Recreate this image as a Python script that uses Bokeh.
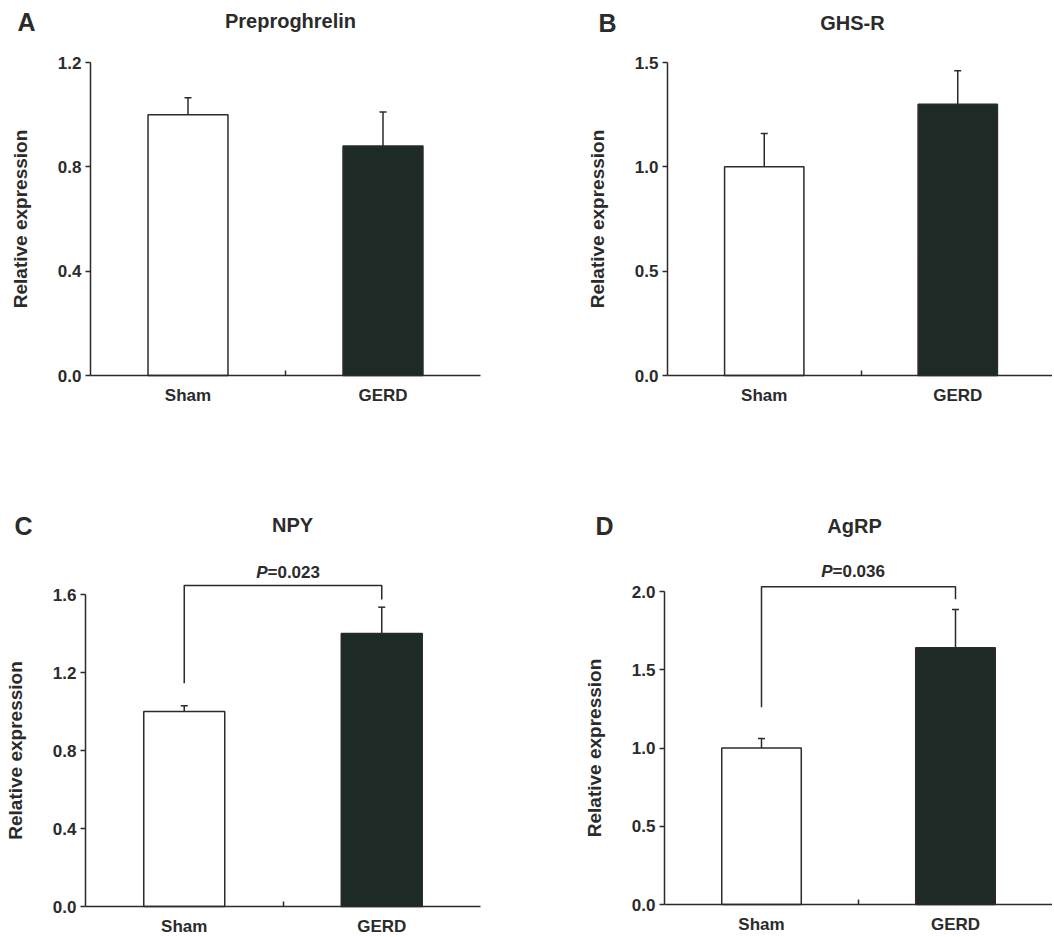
from bokeh.plotting import figure
from bokeh.models import (ColumnDataSource, Range1d, FixedTicker, Whisker, TeeHead, Label,
                          NumeralTickFormatter)
from bokeh.layouts import row, column
from bokeh.embed import file_html
from bokeh.resources import INLINE

# ---- data ----
groups = ["Sham", "GERD"]
group_x = [0.5, 1.5]

titles = ["Preproghrelin", "GHS-R", "NPY", "AgRP"]
letters = ["A", "B", "C", "D"]

preproghrelin_mean = [1.00, 0.88]
preproghrelin_err = [0.065, 0.13]
ghsr_mean = [1.00, 1.30]
ghsr_err = [0.16, 0.16]
npy_mean = [1.00, 1.40]
npy_err = [0.03, 0.135]
agrp_mean = [1.00, 1.64]
agrp_err = [0.06, 0.245]

y_ticks_A = [0.0, 0.4, 0.8, 1.2]
y_ticks_B = [0.0, 0.5, 1.0, 1.5]
y_ticks_C = [0.0, 0.4, 0.8, 1.2, 1.6]
y_ticks_D = [0.0, 0.5, 1.0, 1.5, 2.0]

# significance brackets: (left leg bottom, bracket height, right leg bottom)
npy_bracket = [1.145, 1.646, 1.575]
npy_p = "0.023"
agrp_bracket = [1.26, 2.03, 1.95]
agrp_p = "0.036"

FONT = "Liberation Sans"
INK = "#2b2b2b"
DARK = "#1e2a26"


def panel(title, letter, means, errs, yticks, geom, title_px, letter_px,
          bracket=None, pval=None, p_px=None):
    # geom: pixel layout of the panel (page coordinates)
    x0px, x2px, y0px, ytop_px, fl, fr, ft, fb = geom
    sx = (x2px - x0px) / 2.0
    sy = (y0px - ytop_px) / yticks[-1]

    def dx(px):
        return (px - x0px) / sx

    def dy(py):
        return (y0px - py) / sy

    p = figure(output_backend="svg", toolbar_location=None,
               frame_width=fr - fl, frame_height=fb - ft,
               min_border_left=0, min_border_right=0,
               min_border_top=0, min_border_bottom=0,
               x_range=Range1d(dx(fl), dx(fr)), y_range=Range1d(dy(fb), dy(ft)),
               background_fill_color="white", border_fill_color="white")
    p.outline_line_color = None
    p.grid.visible = False
    p.title.visible = False

    src = ColumnDataSource(dict(x=group_x, top=means, up=[m + e for m, e in zip(means, errs)],
                                fill=["white", DARK]))
    p.vbar(x="x", top="top", width=0.41, bottom=0, source=src, fill_color="fill",
           line_color=INK, line_width=1.5)
    p.add_layout(Whisker(base="x", lower="top", upper="up", source=src, dimension="height",
                         line_color=INK, line_width=1.5,
                         upper_head=TeeHead(size=7, line_color=INK, line_width=1.5),
                         lower_head=None))

    # title and panel letter
    p.add_layout(Label(x=dx(title_px[0]), y=dy(title_px[1]), text=title, text_align="center",
                       text_baseline="middle", text_font=FONT, text_font_size="20px",
                       text_font_style="bold", text_color=INK))
    p.add_layout(Label(x=dx(letter_px[0]), y=dy(letter_px[1]), text=letter, text_align="center",
                       text_baseline="middle", text_font=FONT, text_font_size="25px",
                       text_font_style="bold", text_color=INK))

    if bracket is not None:
        bx = [group_x[0], group_x[0], group_x[1], group_x[1]]
        by = [bracket[0], bracket[1], bracket[1], bracket[2]]
        p.line(bx, by, line_color=INK, line_width=1.5)
        px_, py_ = dx(p_px[0]), dy(p_px[1])
        p.add_layout(Label(x=px_, y=py_, x_offset=-21, text="P", text_align="right",
                           text_baseline="middle", text_font=FONT, text_font_size="17px",
                           text_font_style="bold italic", text_color=INK))
        p.add_layout(Label(x=px_, y=py_, x_offset=-21, text="=" + pval, text_align="left",
                           text_baseline="middle", text_font=FONT, text_font_size="17px",
                           text_font_style="bold", text_color=INK))

    # x axis, drawn at y = 0 inside the frame
    xa = p.xaxis[0]
    xa.fixed_location = 0
    xa.ticker = FixedTicker(ticks=group_x, minor_ticks=[1.0])
    xa.major_label_overrides = {gx: g for gx, g in zip(group_x, groups)}
    xa.bounds = (0, 2)
    xa.major_tick_line_color = None
    xa.major_tick_in = 0
    xa.major_tick_out = 0
    xa.minor_tick_in = 5
    xa.minor_tick_out = 0
    xa.minor_tick_line_color = INK
    xa.minor_tick_line_width = 1.5
    xa.axis_line_color = INK
    xa.axis_line_width = 1.5
    xa.major_label_text_font = FONT
    xa.major_label_text_font_size = "17px"
    xa.major_label_text_font_style = "bold"
    xa.major_label_text_color = INK
    xa.major_label_standoff = 10

    # y axis, drawn at x = 0 inside the frame
    ya = p.yaxis[0]
    ya.fixed_location = 0
    ya.ticker = FixedTicker(ticks=yticks, minor_ticks=[])
    ya.formatter = NumeralTickFormatter(format="0.0")
    ya.bounds = (0, yticks[-1])
    ya.major_tick_in = 0
    ya.major_tick_out = 5
    ya.major_tick_line_color = INK
    ya.major_tick_line_width = 1.5
    ya.axis_line_color = INK
    ya.axis_line_width = 1.5
    ya.major_label_text_font = FONT
    ya.major_label_text_font_size = "17px"
    ya.major_label_text_font_style = "bold"
    ya.major_label_text_color = INK
    ya.major_label_standoff = 4
    ya.axis_label = "Relative expression"
    ya.axis_label_text_font = FONT
    ya.axis_label_text_font_size = "19px"
    ya.axis_label_text_font_style = "bold"
    ya.axis_label_text_color = INK
    ya.axis_label_standoff = 24
    return p


# geometry: (x px of 0, x px of 2, y px of 0, y px of top tick,
#            frame left, frame right, frame top, frame bottom)
pA = panel(titles[0], letters[0], preproghrelin_mean, preproghrelin_err, y_ticks_A,
           (90, 480, 375, 62, 0, 528, 0, 470), (290, 20), (26, 21))
pB = panel(titles[1], letters[1], ghsr_mean, ghsr_err, y_ticks_B,
           (667, 1054, 375, 62, 528, 1052, 0, 470), (852, 22), (607, 22))
pC = panel(titles[2], letters[2], npy_mean, npy_err, y_ticks_C,
           (85, 480, 906, 594, 0, 528, 470, 935), (292, 524), (23, 525),
           bracket=npy_bracket, pval=npy_p, p_px=(288, 572))
pD = panel(titles[3], letters[3], agrp_mean, agrp_err, y_ticks_D,
           (664, 1052, 904, 591, 528, 1052, 470, 935), (854, 525), (604, 525),
           bracket=agrp_bracket, pval=agrp_p, p_px=(853, 571))

layout = column(row(pA, pB, spacing=0), row(pC, pD, spacing=0), spacing=0)
open("out.html", "w").write(file_html(layout, INLINE))
